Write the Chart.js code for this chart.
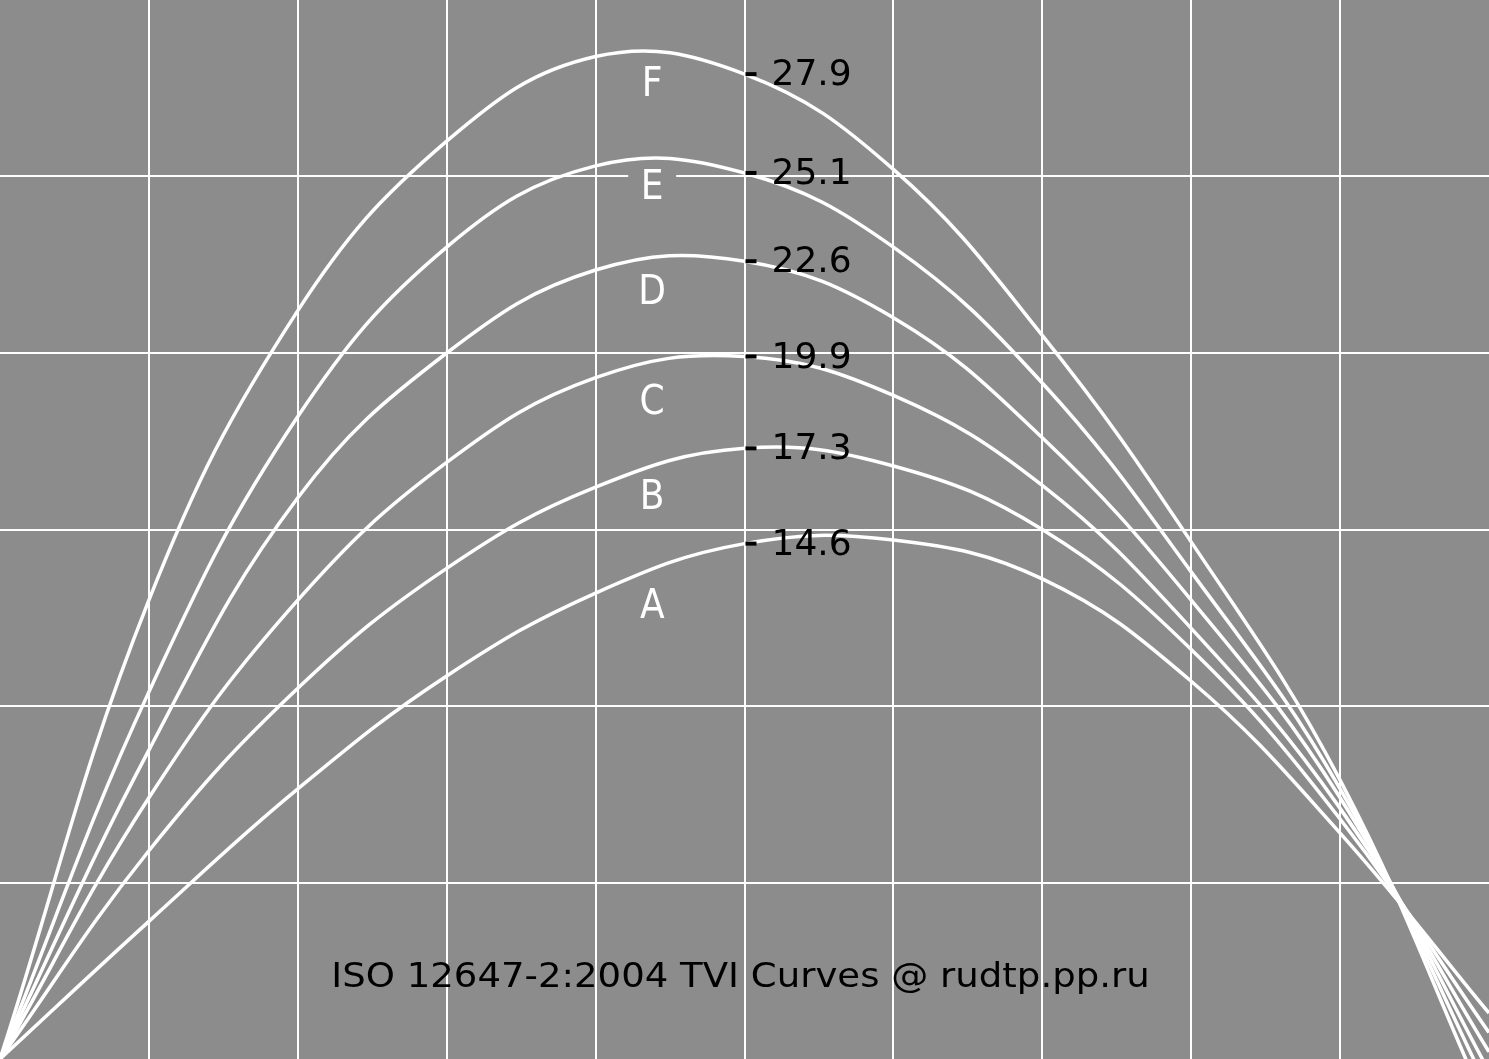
<!DOCTYPE html>
<html>
<head>
<meta charset="utf-8">
<title>ISO 12647-2:2004 TVI Curves</title>
<script src="https://cdn.jsdelivr.net/npm/chart.js"></script>
<style>
  html, body { margin: 0; padding: 0; overflow: hidden; background: #8c8c8c; }
  canvas { display: block; background: #8c8c8c; }
</style>
</head>
<body>
<canvas id="tvi" width="1489" height="1059"></canvas>
<script>
// tint values (%) and dot gain of each curve
const tints = [0, 10, 20, 30, 40, 50, 60, 70, 80, 90, 100];
const curveA = [0, 3.9, 7.65, 10.85, 13.2, 14.6, 14.7, 13.6, 10.7, 6.4, 1.3];
const curveB = [0, 5.9, 10.5, 13.9, 16.2, 17.3, 16.8, 15.0, 11.6, 6.8, 0.75];
const curveC = [0, 7.4, 13.0, 16.9, 19.3, 19.9, 18.8, 16.25, 12.2, 7.1, 0.2];
const curveD = [0, 8.75, 15.9, 20.0, 22.35, 22.6, 21.0, 17.6, 13.0, 7.4, -0.35];
const curveE = [0, 10.4, 18.2, 23.0, 25.3, 25.1, 23.0, 19.15, 13.8, 7.65, -0.9];
const curveF = [0, 13.0, 21.2, 26.0, 28.4, 27.9, 25.2, 20.5, 14.65, 7.9, -1.5];

const names = ['A', 'B', 'C', 'D', 'E', 'F'];
// where the curve letters sit (tint %, dot gain)
const letterTint = 43.8;
const letterGain = [12.9, 15.98, 18.68, 21.8, 24.77, 27.68];
const markTint = 50;  // the "- 27.9" marks are the values at 50%

const title = 'ISO 12647-2:2004 TVI Curves @ rudtp.pp.ru';

const bg = '#8c8c8c';
const series = [curveA, curveB, curveC, curveD, curveE, curveF];

const datasets = series.map((vals, i) => ({
  label: names[i],
  data: tints.map((t, k) => ({ x: t, y: vals[k] })),
  borderColor: '#ffffff',
  borderWidth: 3.5,
  tension: 0.4,
  pointRadius: 0,
  fill: false
}));

// no grid line on the canvas edges
const gridColor = (c) => {
  const n = c.scale.ticks.length;
  return (c.index === 0 || c.index === n - 1) ? 'rgba(0,0,0,0)' : '#ffffff';
};

const labels = {
  id: 'tviLabels',
  afterDatasetsDraw(chart) {
    const { ctx, scales: { x, y } } = chart;
    ctx.save();

    // curve letters, on a grey patch
    ctx.font = '40px "Liberation Sans Narrow", "DejaVu Sans Condensed", sans-serif';
    ctx.textAlign = 'center';
    ctx.textBaseline = 'alphabetic';
    const lx = x.getPixelForValue(letterTint);
    names.forEach((n, i) => {
      const ly = y.getPixelForValue(letterGain[i]);
      ctx.fillStyle = bg;
      ctx.fillRect(lx - 24, ly - 18, 48, 36);
      ctx.fillStyle = '#ffffff';
      ctx.fillText(n, lx, ly + 14.5);
    });

    // values at 50 %: a short black tick and the number
    ctx.font = '36px "DejaVu Sans", Verdana, sans-serif';
    ctx.textAlign = 'left';
    ctx.fillStyle = '#000000';
    const k = tints.indexOf(markTint);
    const mx = x.getPixelForValue(markTint);
    series.forEach((vals) => {
      const my = y.getPixelForValue(vals[k]);
      ctx.fillRect(mx + 1, my - 2, 11, 4);
      ctx.fillText(vals[k].toFixed(1), mx + 27, my + 11);
    });

    // caption
    ctx.font = '34px "DejaVu Sans", Verdana, sans-serif';
    ctx.textAlign = 'center';
    ctx.translate((chart.chartArea.left + chart.chartArea.right) / 2 - 4, 987);
    ctx.scale(1.09, 1);
    ctx.fillText(title, 0, 0);

    ctx.restore();
  }
};

new Chart(document.getElementById('tvi'), {
  type: 'line',
  data: { datasets: datasets },
  options: {
    responsive: false,
    animation: false,
    devicePixelRatio: 1,
    layout: { padding: 0 },
    plugins: {
      legend: { display: false },
      tooltip: { enabled: false },
      title: { display: false }
    },
    scales: {
      x: {
        type: 'linear',
        min: 0,
        max: 100,
        ticks: { display: false, stepSize: 10 },
        grid: { color: gridColor, lineWidth: 2, drawTicks: false },
        border: { display: false }
      },
      y: {
        min: 0,
        max: 30,
        ticks: { display: false, stepSize: 5 },
        grid: { color: gridColor, lineWidth: 2, drawTicks: false },
        border: { display: false }
      }
    }
  },
  plugins: [labels]
});
</script>
</body>
</html>
